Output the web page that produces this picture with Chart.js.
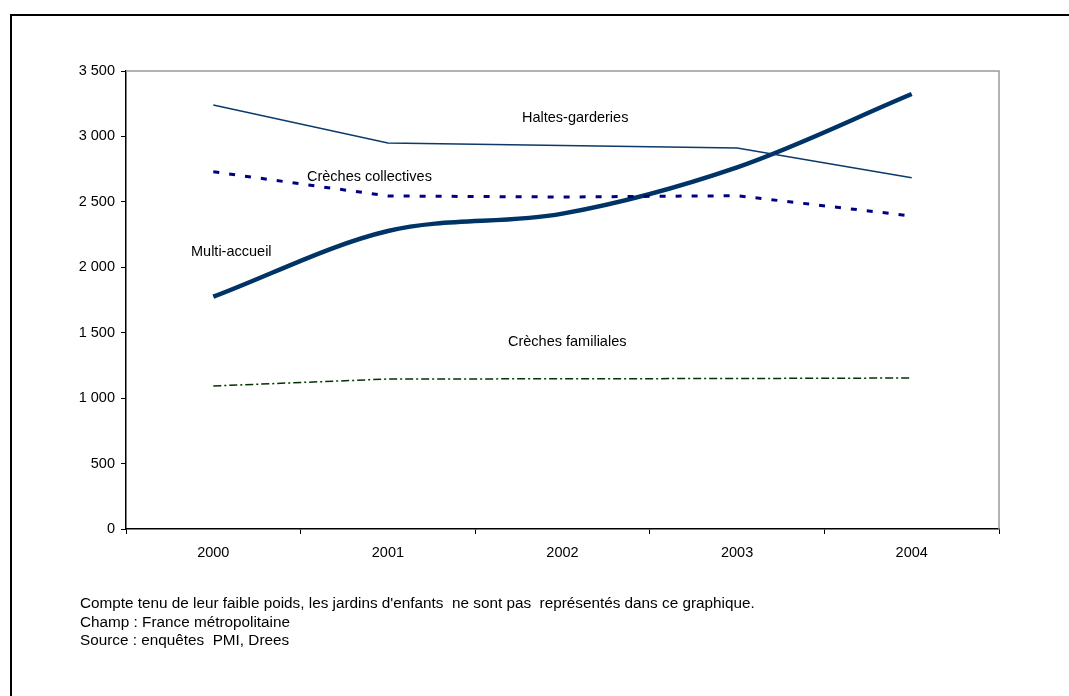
<!DOCTYPE html>
<html>
<head>
<meta charset="utf-8">
<script src="https://cdn.jsdelivr.net/npm/chart.js@4"></script>
<style>
  html, body { margin: 0; padding: 0; background: #fff; overflow: hidden; }
  #wrap { position: relative; width: 1069px; height: 696px; }
  #frame { position: absolute; left: 10px; top: 14px; width: 1100px; height: 720px; border: 2px solid #000; box-sizing: border-box; }
  canvas { position: absolute; left: 0; top: 0; }
  .lbl { position: absolute; font-family: "Liberation Sans", Arial, sans-serif; font-size: 14.5px; line-height: 16px; color: #000; white-space: nowrap; }
  #notes { position: absolute; left: 80px; top: 594px; font-family: "Liberation Sans", Arial, sans-serif; font-size: 15.3px; line-height: 18.5px; color: #000; white-space: pre; }
</style>
</head>
<body>
<div id="wrap">
  <div id="frame"></div>
  <canvas id="myChart" width="1069" height="696"></canvas>
  <div class="lbl" style="left:522px; top:109px;">Haltes-garderies</div>
  <div class="lbl" style="left:307px; top:168px;">Crèches collectives</div>
  <div class="lbl" style="left:191px; top:243px;">Multi-accueil</div>
  <div class="lbl" style="left:508px; top:333px;">Crèches familiales</div>
  <div id="notes">Compte tenu de leur faible poids, les jardins d'enfants  ne sont pas  représentés dans ce graphique.
Champ : France métropolitaine
Source : enquêtes  PMI, Drees</div>
</div>
<script>
// years on x axis
const years = ['2000', '2001', '2002', '2003', '2004'];

// values
const haltesGarderies = [3240, 2950, 2930, 2912, 2685];
const crechesCollectives = [2730, 2545, 2537, 2547, 2392];
const multiAccueil = [1775, 2277, 2410, 2764, 3324];
const crechesFamiliales = [1093, 1146, 1148, 1150, 1154];

const yTicks = [0, 500, 1000, 1500, 2000, 2500, 3000, 3500];

const fmt = (v) => String(v).replace(/\B(?=(\d{3})+(?!\d))/g, ' ');

// gray frame on top & right of plot area
const plotFrame = {
    id: 'plotFrame',
    beforeDatasetsDraw(chart) {
        const a = chart.chartArea;
        const ctx = chart.ctx;
        ctx.save();
        ctx.strokeStyle = '#999';
        ctx.lineWidth = 1.5;
        ctx.beginPath();
        ctx.moveTo(a.left, a.top);
        ctx.lineTo(a.right, a.top);
        ctx.lineTo(a.right, a.bottom);
        ctx.stroke();
        ctx.restore();
    }
};

Chart.defaults.font.family = '"Liberation Sans", Arial, sans-serif';
Chart.defaults.font.size = 14.5;
Chart.defaults.color = '#000';

new Chart('myChart', {
    type: 'line',
    data: {
        labels: years,
        datasets: [
            {
                label: 'Haltes-garderies',
                data: haltesGarderies,
                borderColor: '#0b3a6b',
                borderWidth: 1.5,
                pointRadius: 0,
                tension: 0
            },
            {
                label: 'Crèches collectives',
                data: crechesCollectives,
                borderColor: '#000080',
                borderWidth: 3,
                borderDash: [6, 10],
                pointRadius: 0,
                tension: 0
            },
            {
                label: 'Multi-accueil',
                data: multiAccueil,
                borderColor: '#003366',
                borderWidth: 4.5,
                pointRadius: 0,
                cubicInterpolationMode: 'monotone'
            },
            {
                label: 'Crèches familiales',
                data: crechesFamiliales,
                borderColor: '#003300',
                borderWidth: 1.5,
                borderDash: [8, 3, 2, 3],
                pointRadius: 0,
                tension: 0
            }
        ]
    },
    options: {
        responsive: false,
        animation: false,
        layout: { padding: { top: 71, right: 70, bottom: 0, left: 0 } },
        plugins: { legend: { display: false }, tooltip: { enabled: false } },
        scales: {
            x: {
                offset: true,
                grid: { offset: true, drawOnChartArea: false, drawTicks: true, tickLength: 5, color: '#000', lineWidth: 1 },
                border: { color: '#000', width: 1.5 },
                ticks: { padding: 10, maxRotation: 0 },
                afterFit: (s) => { s.height = 167; }
            },
            y: {
                min: 0,
                max: 3500,
                afterBuildTicks: (s) => { s.ticks = yTicks.map(v => ({ value: v })); },
                grid: { drawOnChartArea: false, drawTicks: true, tickLength: 5, color: '#000', lineWidth: 1 },
                border: { color: '#000', width: 1.5 },
                ticks: { padding: 6, callback: (v) => fmt(v) },
                afterFit: (s) => { s.width = 126; }
            }
        }
    },
    plugins: [plotFrame]
});
</script>
</body>
</html>
